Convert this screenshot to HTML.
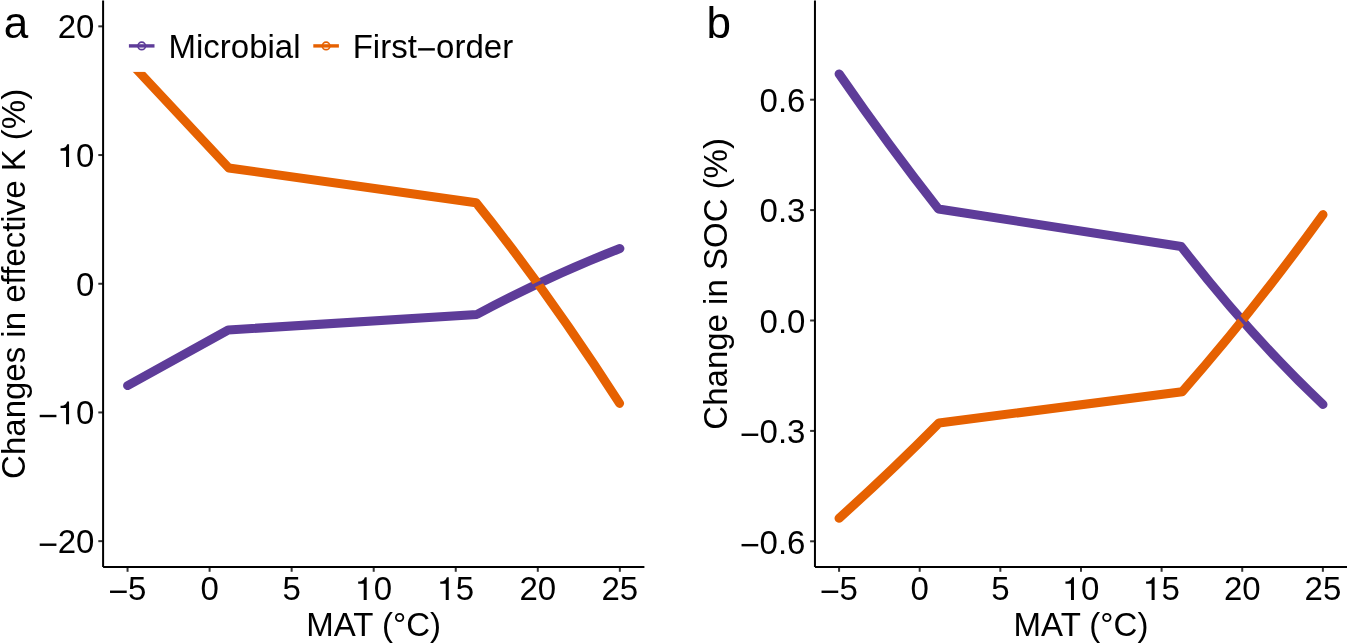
<!DOCTYPE html>
<html><head><meta charset="utf-8"><style>
html,body{margin:0;padding:0;background:#fff;overflow:hidden}
svg{display:block;font-family:"Liberation Sans",sans-serif;will-change:transform}
</style></head><body>
<svg width="1347" height="643" viewBox="0 0 1347 643">
<rect width="1347" height="643" fill="#fff"/>
<g fill="none" stroke-width="9.0" stroke-linejoin="round" stroke-linecap="round">
<path d="M127.6 385.6 L228.2 330 L477 314.4 Q548.45 276.21 619.9 248.51" stroke="#5E3C99"/>
<path d="M127.6 59.74 L228.8 168 L476 202.7 Q547.8 291.66 619.6 403.41" stroke="#E66101"/>
<path d="M839.1 73.9 Q888.8 145.9 938.5 209 L1181.2 246.5 Q1252.1 337.81 1323 404.5" stroke="#5E3C99"/>
<path d="M839 518.3 Q889 473.5 939 423 L1182.2 391.7 Q1252.6 311.88 1323 214.6" stroke="#E66101"/>
</g>
<g stroke="#5E3C99" stroke-width="3.6" stroke-linecap="butt">
<line x1="532.83" y1="286.15" x2="542.77" y2="281.45"/>
<line x1="1238.57" y1="316.37" x2="1245.83" y2="324.63"/>
</g>
<rect x="108" y="20" width="420" height="51.9" fill="#fff"/>
<line x1="128.9" y1="45.9" x2="154.5" y2="45.9" stroke="#5E3C99" stroke-width="3.4"/>
<circle cx="141.7" cy="45.9" r="3.75" fill="none" stroke="#5E3C99" stroke-width="1.7"/>
<line x1="313.3" y1="45.9" x2="338.9" y2="45.9" stroke="#E66101" stroke-width="3.4"/>
<circle cx="326.1" cy="45.9" r="3.75" fill="none" stroke="#E66101" stroke-width="1.7"/>
<g stroke="#333" stroke-width="2">
<line x1="127.55" y1="567" x2="127.55" y2="571.8"/>
<line x1="839.07" y1="567" x2="839.07" y2="571.8"/>
<line x1="209.6" y1="567" x2="209.6" y2="571.8"/>
<line x1="919.7" y1="567" x2="919.7" y2="571.8"/>
<line x1="291.65" y1="567" x2="291.65" y2="571.8"/>
<line x1="1000.34" y1="567" x2="1000.34" y2="571.8"/>
<line x1="373.7" y1="567" x2="373.7" y2="571.8"/>
<line x1="1080.97" y1="567" x2="1080.97" y2="571.8"/>
<line x1="455.75" y1="567" x2="455.75" y2="571.8"/>
<line x1="1161.61" y1="567" x2="1161.61" y2="571.8"/>
<line x1="537.8" y1="567" x2="537.8" y2="571.8"/>
<line x1="1242.24" y1="567" x2="1242.24" y2="571.8"/>
<line x1="619.85" y1="567" x2="619.85" y2="571.8"/>
<line x1="1322.88" y1="567" x2="1322.88" y2="571.8"/>
<line x1="98.3" y1="26.35" x2="103.1" y2="26.35"/>
<line x1="98.3" y1="155.05" x2="103.1" y2="155.05"/>
<line x1="98.3" y1="283.75" x2="103.1" y2="283.75"/>
<line x1="98.3" y1="412.45" x2="103.1" y2="412.45"/>
<line x1="98.3" y1="541.15" x2="103.1" y2="541.15"/>
<line x1="810.1" y1="99.7" x2="814.95" y2="99.7"/>
<line x1="810.1" y1="210.1" x2="814.95" y2="210.1"/>
<line x1="810.1" y1="320.5" x2="814.95" y2="320.5"/>
<line x1="810.1" y1="430.9" x2="814.95" y2="430.9"/>
<line x1="810.1" y1="541.3" x2="814.95" y2="541.3"/>
</g>
<g stroke="#000" stroke-width="2" fill="none" stroke-linecap="butt">
<path d="M103.1 0.6 V567 M103.1 567 H644.4"/>
<path d="M814.95 0.6 V567 M814.95 567 H1348"/>
</g>
<g font-size="33">
<rect x="110.03" y="590.56" width="16.7" height="2.41" fill="#000"/><text x="128.01" y="600.1">5</text>
<rect x="821.54" y="590.56" width="16.7" height="2.41" fill="#000"/><text x="839.53" y="600.1">5</text>
<text x="200.43" y="600.1">0</text>
<text x="910.53" y="600.1">0</text>
<text x="282.48" y="600.1">5</text>
<text x="991.16" y="600.1">5</text>
<path d="M344 0L344 690L287 690C269 630 234 590 177 573C145 567 115 563 86 560L86 494L253 494L253 0Z" transform="translate(355.35 600.1) scale(0.033 -0.033)"/><text x="373.7" y="600.1">0</text>
<path d="M344 0L344 690L287 690C269 630 234 590 177 573C145 567 115 563 86 560L86 494L253 494L253 0Z" transform="translate(1062.62 600.1) scale(0.033 -0.033)"/><text x="1080.97" y="600.1">0</text>
<path d="M344 0L344 690L287 690C269 630 234 590 177 573C145 567 115 563 86 560L86 494L253 494L253 0Z" transform="translate(437.4 600.1) scale(0.033 -0.033)"/><text x="455.75" y="600.1">5</text>
<path d="M344 0L344 690L287 690C269 630 234 590 177 573C145 567 115 563 86 560L86 494L253 494L253 0Z" transform="translate(1143.26 600.1) scale(0.033 -0.033)"/><text x="1161.61" y="600.1">5</text>
<text x="519.45" y="600.1">2</text><text x="537.8" y="600.1">0</text>
<text x="1223.89" y="600.1">2</text><text x="1242.24" y="600.1">0</text>
<text x="601.5" y="600.1">2</text><text x="619.85" y="600.1">5</text>
<text x="1304.53" y="600.1">2</text><text x="1322.88" y="600.1">5</text>
<text x="57.7" y="38.25">2</text><text x="76.05" y="38.25">0</text>
<path d="M344 0L344 690L287 690C269 630 234 590 177 573C145 567 115 563 86 560L86 494L253 494L253 0Z" transform="translate(57.7 166.95) scale(0.033 -0.033)"/><text x="76.05" y="166.95">0</text>
<text x="76.05" y="295.65">0</text>
<rect x="39.72" y="414.81" width="16.7" height="2.41" fill="#000"/><path d="M344 0L344 690L287 690C269 630 234 590 177 573C145 567 115 563 86 560L86 494L253 494L253 0Z" transform="translate(57.7 424.35) scale(0.033 -0.033)"/><text x="76.05" y="424.35">0</text>
<rect x="39.72" y="543.51" width="16.7" height="2.41" fill="#000"/><text x="57.7" y="553.05">2</text><text x="76.05" y="553.05">0</text>
<text x="759.53" y="111.9">0</text><text x="777.88" y="111.9">.</text><text x="787.05" y="111.9">6</text>
<text x="759.53" y="222.3">0</text><text x="777.88" y="222.3">.</text><text x="787.05" y="222.3">3</text>
<text x="759.53" y="332.7">0</text><text x="777.88" y="332.7">.</text><text x="787.05" y="332.7">0</text>
<rect x="741.55" y="433.56" width="16.7" height="2.41" fill="#000"/><text x="759.53" y="443.1">0</text><text x="777.88" y="443.1">.</text><text x="787.05" y="443.1">3</text>
<rect x="741.55" y="543.96" width="16.7" height="2.41" fill="#000"/><text x="759.53" y="553.5">0</text><text x="777.88" y="553.5">.</text><text x="787.05" y="553.5">6</text>
<text x="373.7" y="636" text-anchor="middle">MAT (°C)</text>
<text x="1081" y="636" text-anchor="middle">MAT (°C)</text>
<text transform="translate(25.2 283.85) rotate(-90)" text-anchor="middle">Changes in effective K (%)</text>
<text transform="translate(727.2 283.85) rotate(-90)" text-anchor="middle">Change in SOC (%)</text>
<text x="168.5" y="57.7">Microbial</text>
<text x="352.7" y="57.7">First</text>
<rect x="418.13" y="48.16" width="16.7" height="2.41" fill="#000"/>
<text x="436.12" y="57.7">order</text>
</g>
<g font-size="44"><text x="3.7" y="38.2">a</text><text x="706.4" y="38.1">b</text></g>
</svg></body></html>
